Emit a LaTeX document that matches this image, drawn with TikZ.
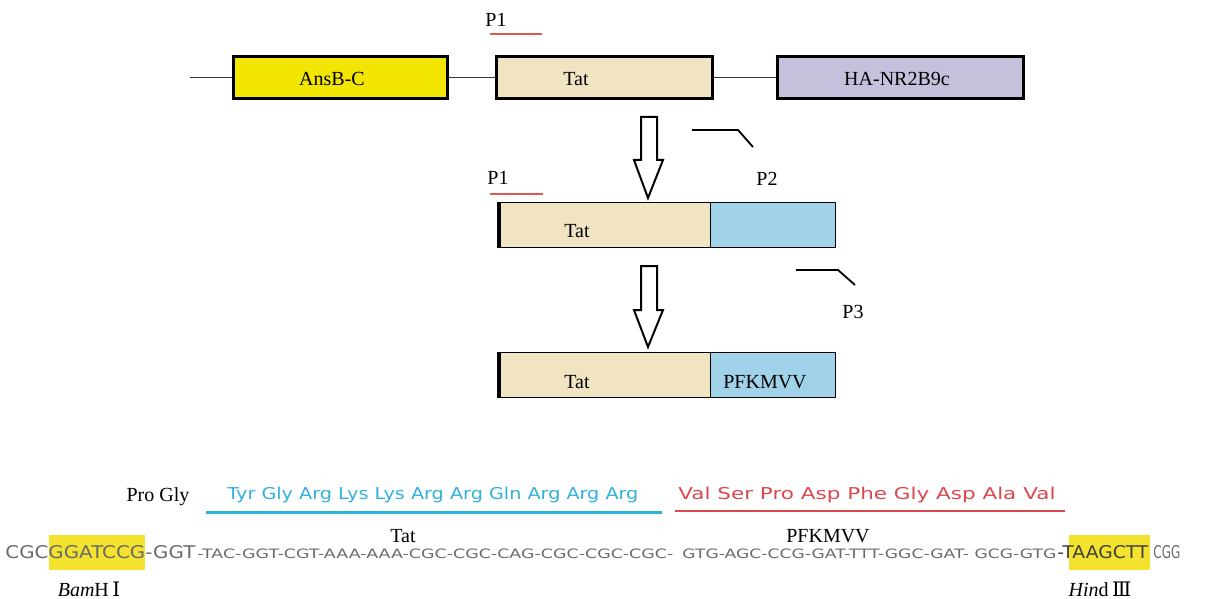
\documentclass[tikz,border=0pt]{standalone}
\usepackage{fontspec}
\setmainfont{Liberation Serif}
\newfontfamily\seqf{DejaVu Sans}
\newfontfamily\romf{DejaVu Serif}
\definecolor{ansbY}{HTML}{F2E600}
\definecolor{hlY}{HTML}{F4E32E}
\definecolor{tatB}{HTML}{F0E4C2}
\definecolor{haL}{HTML}{C4C1DC}
\definecolor{pfkB}{HTML}{A0D2EA}
\definecolor{primR}{HTML}{E0584A}
\definecolor{tatC}{HTML}{2FB1DC}
\definecolor{pfkR}{HTML}{D9474F}
\definecolor{seqG}{HTML}{6A6A6A}
\begin{document}
\begin{tikzpicture}[x=0.5pt,y=-0.5pt,
  lab/.style={font=\fontsize{10}{12}\selectfont, inner sep=0pt},
  gbox/.style={draw=black, line width=1.5pt, minimum height=21pt, inner sep=0pt, anchor=north west},
  pbox/.style={draw=black, line width=0.7pt, minimum height=22.5pt, inner sep=0pt, anchor=north west},
  hollow/.style={draw=black, line width=1pt, fill=white, line join=miter},
  primer/.style={draw=black, line width=0.9pt},
  redp/.style={draw=primR, line width=1pt},
  seqn/.style={inner sep=0pt, anchor=base west, text=seqG},
  hl/.style={fill=hlY, draw=none},
  link/.style={line width=0.9pt, draw=black!80}]
\useasboundingbox (0,0) rectangle (1205,599);

% ---------- top construct ----------
\node[gbox, fill=ansbY, minimum width=107pt] (ansb) at (232,55) {};
\node[gbox, fill=tatB, minimum width=108pt] (tat1) at (495,55) {};
\node[gbox, fill=haL, minimum width=123pt] (ha) at (776,55) {};
\coordinate (x190) at (190,0);
\coordinate (start) at (ansb.west -| x190);
\draw[link] (start) -- (ansb.west);
\draw[link] (ansb.east) -- (tat1.west);
\draw[link] (tat1.east) -- (ha.west);
\node[lab] (ansbL) at (332,79) {AnsB-C};
\node[lab] (tat1L) at (576,79) {Tat};
\node[lab] (haL) at (897,79) {HA-NR2B9c};

\node[lab] (p1a) at (496,20) {P1};
\coordinate (p1aS) at (490,34);
\coordinate (p1aE) at (542,34);
\draw[redp] (p1aS) -- (p1aE);

% ---------- arrow 1 ----------
\draw[hollow] (641,117) -- (657,117) -- (657,160) -- (663,160) -- (648,198) -- (634,160) -- (641,160) -- cycle;

% P2 primer
\coordinate (p2a) at (692,130);
\coordinate (p2b) at (738,130);
\coordinate (p2c) at (753,147);
\draw[primer] (p2a) -- (p2b) -- (p2c);
\node[lab] (p2) at (767,179) {P2};

% ---------- construct 2 ----------
\node[lab] (p1b) at (498,178) {P1};
\coordinate (p1bS) at (490,194);
\coordinate (p1bE) at (543,194);
\draw[redp] (p1bS) -- (p1bE);
\node[pbox, fill=tatB, minimum width=105.5pt] (tat2) at (499,202) {};
\node[pbox, fill=pfkB, minimum width=62.5pt] (pfk2) at (710,202) {};
\draw[line width=1.6pt] (tat2.north west) -- (tat2.south west);
\node[lab] (tat2L) at (577,231) {Tat};

% ---------- arrow 2 ----------
\draw[hollow] (641,266) -- (657,266) -- (657,310) -- (663,310) -- (648,347) -- (634,310) -- (641,310) -- cycle;

% P3 primer
\coordinate (p3a) at (796,270);
\coordinate (p3b) at (838,270);
\coordinate (p3c) at (855,285);
\draw[primer] (p3a) -- (p3b) -- (p3c);
\node[lab] (p3) at (853,312) {P3};

% ---------- construct 3 ----------
\node[pbox, fill=tatB, minimum width=105.5pt] (tat3) at (499,352) {};
\node[pbox, fill=pfkB, minimum width=62.5pt] (pfk3) at (710,352) {};
\draw[line width=1.6pt] (tat3.north west) -- (tat3.south west);
\node[lab] (tat3L) at (577,382) {Tat};
\node[lab] (pfk3L) at (765,382) {PFKMVV};

% ---------- bottom sequence ----------
\node[lab] (progly) at (158,497) {Pro Gly};
\node[inner sep=0pt, anchor=base west, text=tatC] (tyr) at (227,499)
  {\resizebox{205.5pt}{6.2pt}{\seqf Tyr Gly Arg Lys Lys Arg Arg Gln Arg Arg Arg}};
\coordinate (tlS) at (206,512);
\coordinate (tlE) at (662,512);
\draw[draw=tatC, line width=1.5pt] (tlS) -- (tlE);
\node[inner sep=0pt, anchor=base west, text=pfkR] (val) at (678,499)
  {\resizebox{188.5pt}{6.2pt}{\seqf Val Ser Pro Asp Phe Gly Asp Ala Val}};
\coordinate (plS) at (675,511);
\coordinate (plE) at (1065,511);
\draw[draw=pfkR, line width=1pt] (plS) -- (plE);
\node[lab] (tatB) at (403,536) {Tat};
\node[lab] (pfkB) at (828,536) {PFKMVV};

\path[hl] (49,535) rectangle (145,570);
\path[hl] (1069,535) rectangle (1150,570);

\node[seqn] (s1) at (5,558) {\resizebox{95pt}{6.5pt}{\seqf CGCGGATCCG-GGT}};
\node[seqn] (s2) at (197,558) {\resizebox{238pt}{4.8pt}{\seqf -TAC-GGT-CGT-AAA-AAA-CGC-CGC-CAG-CGC-CGC-CGC-}};
\node[seqn] (s3) at (682,558) {\resizebox{187pt}{4.8pt}{\seqf GTG-AGC-CCG-GAT-TTT-GGC-GAT-\ GCG-GTG}};
\node[seqn, text=black!75] (s4) at (1057,558) {\resizebox{45.5pt}{6.5pt}{\seqf -TAAGCTT}};
\node[seqn] (s5) at (1153,558) {\resizebox{13.5pt}{6.5pt}{\seqf CGG}};

\node[lab] (bam) at (89,589) {\textit{Bam}H\,{\romf Ⅰ}};
\node[lab] (hind) at (1100,589) {\textit{Hin}d\,{\romf Ⅲ}};
\end{tikzpicture}
\end{document}
